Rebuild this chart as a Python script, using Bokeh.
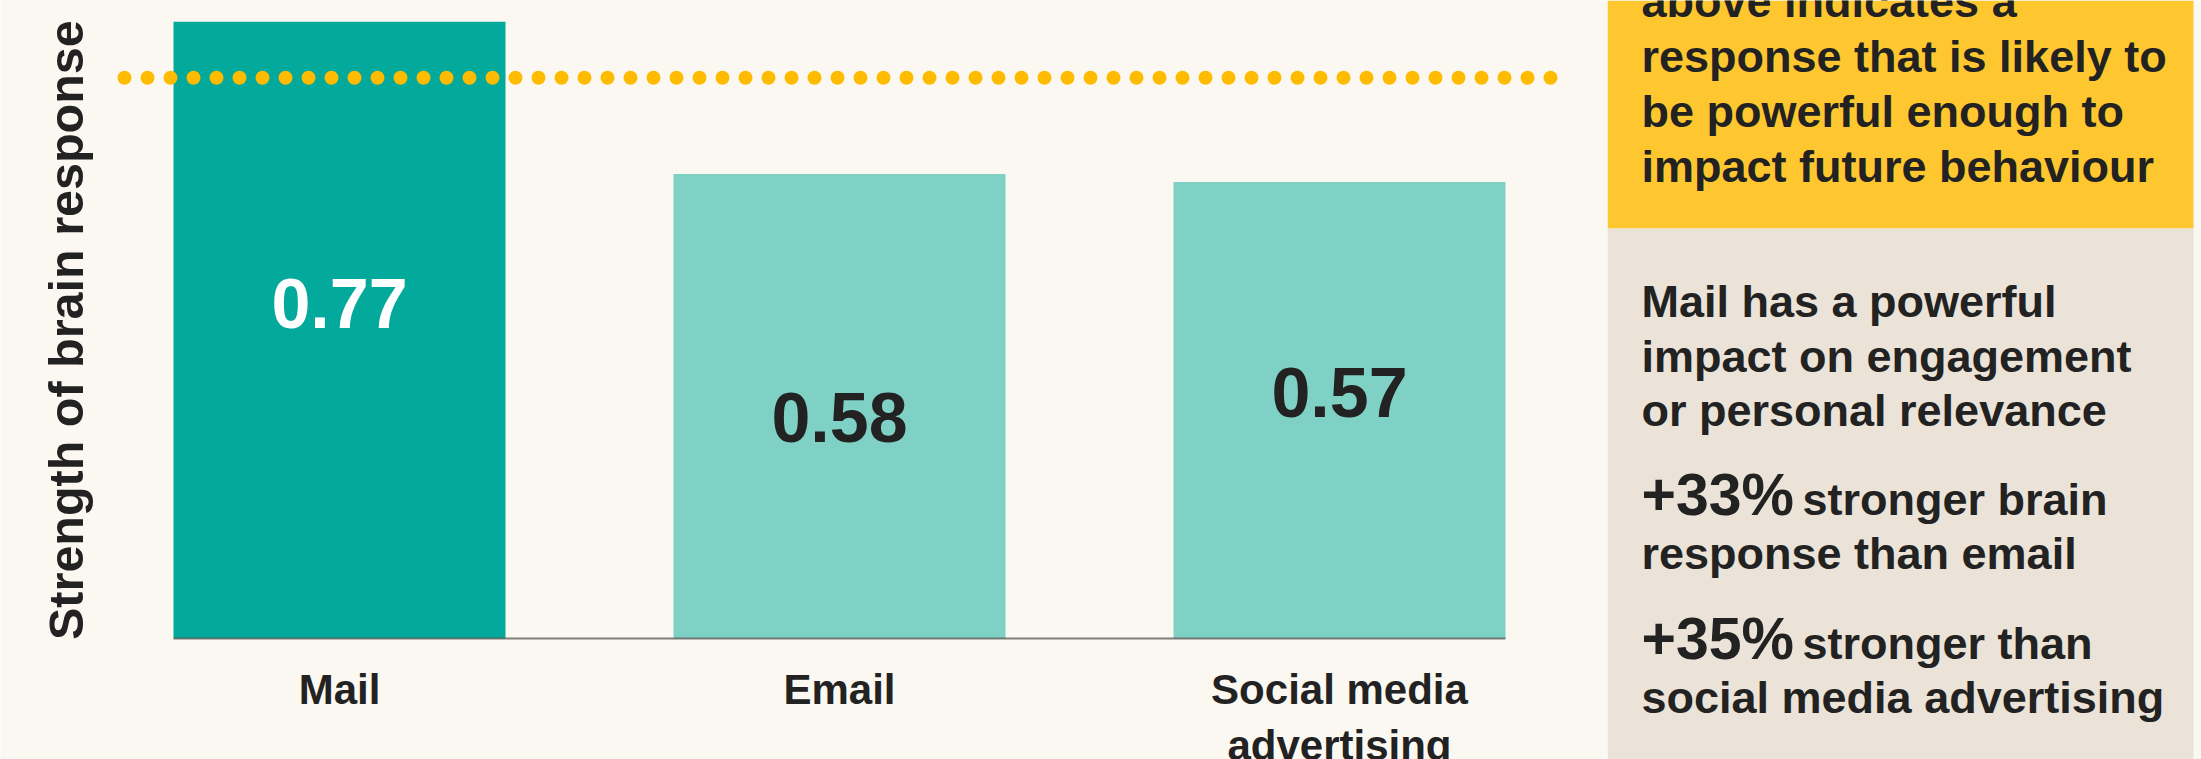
from bokeh.plotting import figure
from bokeh.layouts import row
from bokeh.models import Range1d
from bokeh.core.properties import value
from bokeh.embed import file_html
from bokeh.resources import INLINE
import math

# ---------------- data ----------------
categories = ["Mail", "Email", "Social media advertising"]
category_labels = ["Mail", "Email", "Social media\nadvertising"]
strength = [0.77, 0.58, 0.57]
value_labels = ["0.77", "0.58", "0.57"]
threshold = 0.70
y_axis_title = "Strength of brain response"

callout_top = ["above indicates a", "response that is likely to",
               "be powerful enough to", "impact future behaviour"]
callout_main = ["Mail has a powerful", "impact on engagement", "or personal relevance"]
stat_values = ["+33%", "+35%"]
stat_line1 = ["stronger brain", "stronger than"]
stat_line2 = ["response than email", "social media advertising"]

# ---------------- style ----------------
FONT = "Liberation Sans"
BG = "#FBF8F1"
TEAL = "#03A99A"
TEAL_LIGHT = "#80D1C5"
DOT = "#FFBB00"
YELLOW = "#FEC72F"
BEIGE = "#EBE3D7"
INK = "#222222"
BAR_W = 0.664

bar_colors = [TEAL, TEAL_LIGHT, TEAL_LIGHT]
label_colors = ["#FFFFFF", INK, INK]
label_y = [0.418, 0.276, 0.307]   # vertical placement of the value labels

xs = list(range(len(categories)))

# ---------------- chart ----------------
p = figure(width=1607, height=759,
           x_range=Range1d(-0.678, 2.536), y_range=Range1d(-0.1511, 0.7965),
           output_backend="svg", toolbar_location=None, min_border=0,
           x_axis_location=None, y_axis_location=None)
p.grid.visible = False
p.outline_line_color = None
p.background_fill_color = BG
p.border_fill_color = BG

p.vbar(x=xs, top=strength, bottom=0, width=BAR_W, fill_color=bar_colors, line_color=None)

# baseline (only under the bars)
p.segment(x0=[xs[0] - BAR_W / 2], x1=[xs[-1] + BAR_W / 2], y0=[0], y1=[0],
          line_color="#555555", line_width=2, line_alpha=0.75)

# dotted threshold line
p.line(x=[xs[0] - 0.43, xs[-1] + 0.424], y=[threshold, threshold],
       line_color=DOT, line_width=14, line_dash="0 23", line_cap="round")

# value labels
p.text(x=xs, y=label_y, text=value_labels, text_color=label_colors,
       text_font=value(FONT), text_font_style="bold", text_font_size="70px",
       text_align="center", text_baseline="alphabetic")

# category labels
p.text(x=xs, y=[-0.034] * len(xs), text=category_labels, text_color=INK,
       text_font=value(FONT), text_font_style="bold", text_font_size="42px",
       text_align="center", text_baseline="top", text_line_height=1.2)

# y axis title
p.text(x=[-0.548], y=[0.385], text=[y_axis_title], angle=math.pi / 2,
       text_color=INK, text_font=value(FONT), text_font_style="bold",
       text_font_size="48.5px", text_align="center", text_baseline="alphabetic")

# ---------------- side panel ----------------
q = figure(width=594, height=759, x_range=Range1d(0, 594), y_range=Range1d(759, 0),
           output_backend="svg", toolbar_location=None, min_border=0,
           x_axis_location=None, y_axis_location=None)
q.grid.visible = False
q.outline_line_color = None
q.background_fill_color = BG
q.border_fill_color = BG

q.quad(left=[0, 0], right=[586, 586], top=[0, 228], bottom=[228, 759],
       fill_color=[YELLOW, BEIGE], line_color=None)

txt = dict(text_color=INK, text_font=value(FONT), text_font_style="bold",
           text_baseline="alphabetic", text_align="left")

q.text(x=[34] * len(callout_top), y=[1, 56, 111, 166], text=callout_top,
       text_font_size="45px", **txt)
q.text(x=[34] * len(callout_main), y=[301, 356, 410], text=callout_main,
       text_font_size="45px", **txt)
q.text(x=[34, 34], y=[494, 638], text=stat_values, text_font_size="59px", **txt)
q.text(x=[195, 195], y=[499, 643], text=stat_line1, text_font_size="45px", **txt)
q.text(x=[34, 34], y=[553, 697], text=stat_line2, text_font_size="45px", **txt)

layout = row(p, q)
open("out.html", "w").write(file_html(layout, INLINE))
